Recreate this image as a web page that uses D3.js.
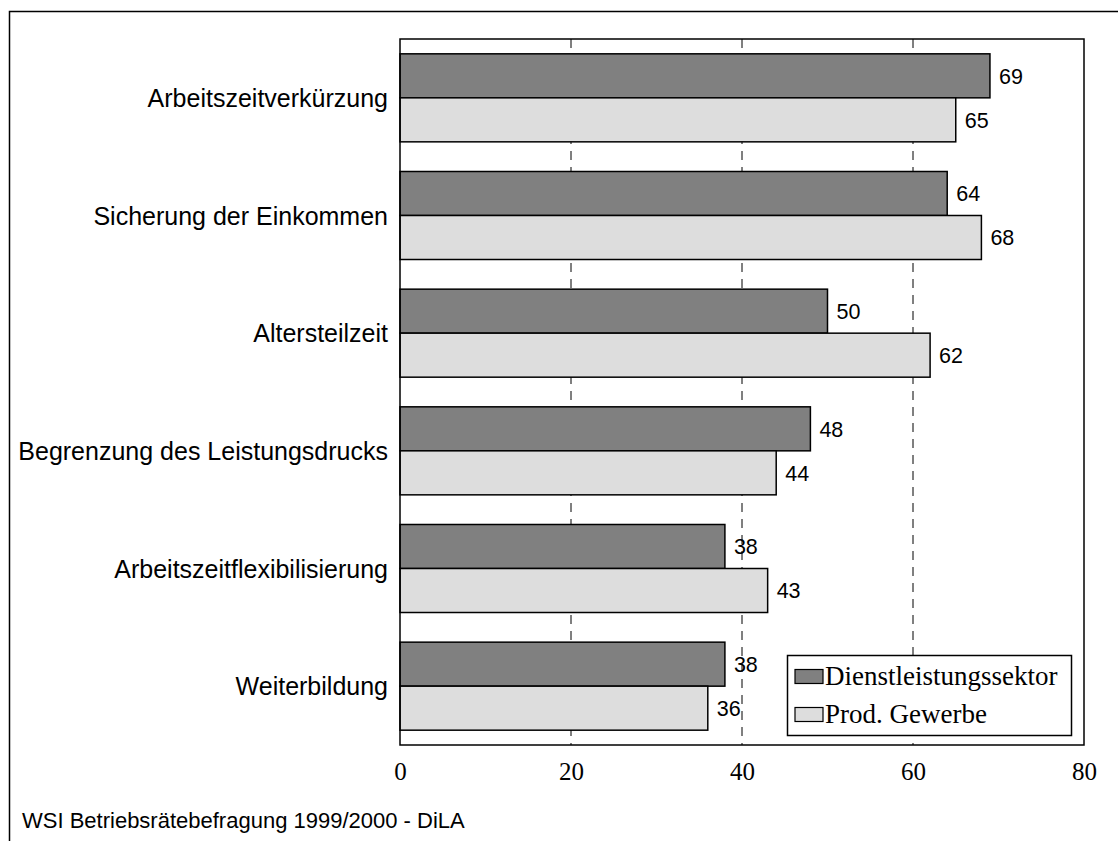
<!DOCTYPE html>
<html><head><meta charset="utf-8">
<script src="https://cdn.jsdelivr.net/npm/d3@7/dist/d3.min.js"></script>
<style>body{margin:0;background:#fff}svg{display:block}</style>
</head><body>
<svg id="c" width="1118" height="841"></svg>
<script>
const categories = ["Arbeitszeitverkürzung","Sicherung der Einkommen","Altersteilzeit","Begrenzung des Leistungsdrucks","Arbeitszeitflexibilisierung","Weiterbildung"];
const seriesNames = ["Dienstleistungssektor","Prod. Gewerbe"];
const dienst = [69,64,50,48,38,38];
const prod = [65,68,62,44,43,36];
const xTicks = [0,20,40,60,80];
const source = "WSI Betriebsrätebefragung 1999/2000 - DiLA";
const colors = ["#808080","#dddddd"];

const svg = d3.select("#c");
svg.append("rect").attr("x",9.5).attr("y",11.5).attr("width",1200).attr("height",900)
  .attr("fill","none").attr("stroke","#000").attr("stroke-width",1.5);

const L=400,R=1084,T=39,B=745;
const x = d3.scaleLinear().domain([0,80]).range([L,R]);
const y = d3.scaleBand().domain(categories).range([T,B]).paddingInner(0.252).paddingOuter(0.126);
const sub = d3.scaleBand().domain([0,1]).range([0,y.bandwidth()]);

svg.append("g").selectAll("line").data(xTicks.filter(d=>d>0&&d<80)).join("line")
  .attr("x1",d=>x(d)).attr("x2",d=>x(d)).attr("y1",T).attr("y2",B)
  .attr("stroke","#000").attr("stroke-width",1).attr("stroke-dasharray","9,7");

const data = categories.map((c,i)=>({c,vals:[dienst[i],prod[i]]}));
const g = svg.append("g");
data.forEach(d=>{
  d.vals.forEach((v,j)=>{
    g.append("rect").attr("x",x(0)).attr("y",y(d.c)+sub(j)).attr("width",x(v)-x(0)).attr("height",sub.bandwidth())
      .attr("fill",colors[j]).attr("stroke","#000").attr("stroke-width",1.5);
    g.append("text").attr("x",x(v)+9).attr("y",y(d.c)+sub(j)+sub.bandwidth()/2).attr("dy","0.36em")
      .attr("font-family","Liberation Sans, Arial, sans-serif").attr("font-size",21.5).text(v);
  });
});

svg.append("rect").attr("x",L).attr("y",T).attr("width",R-L).attr("height",B-T)
  .attr("fill","none").attr("stroke","#000").attr("stroke-width",1.5);

const yAxis = svg.append("g").attr("transform",`translate(${L},0)`).call(d3.axisLeft(y).tickSize(0).tickPadding(12));
yAxis.select(".domain").remove();
yAxis.selectAll("text").attr("font-family","Liberation Sans, Arial, sans-serif").attr("font-size",25).attr("fill","#000").attr("dy","0.36em");

const xAxis = svg.append("g").attr("transform",`translate(0,${B})`).call(d3.axisBottom(x).tickValues(xTicks).tickSize(0).tickPadding(0));
xAxis.select(".domain").remove();
xAxis.selectAll("text").attr("font-family","Liberation Serif, Times New Roman, serif").attr("font-size",25).attr("fill","#000").attr("dy",null).attr("y",35);

const lg = svg.append("g");
lg.append("rect").attr("x",787.5).attr("y",655.5).attr("width",284).attr("height",80).attr("fill","#fff").attr("stroke","#000").attr("stroke-width",1.5);
seriesNames.forEach((n,j)=>{
  const yy = 676.5 + j*38;
  lg.append("rect").attr("x",795).attr("y",yy-7).attr("width",28).attr("height",14).attr("fill",colors[j]).attr("stroke","#000").attr("stroke-width",1.2);
  lg.append("text").attr("x",825).attr("y",yy+8.5).attr("font-family","Liberation Serif, Times New Roman, serif").attr("font-size",27).text(n);
});

svg.append("text").attr("x",22).attr("y",828).attr("font-family","Liberation Sans, Arial, sans-serif").attr("font-size",22).text(source);
</script>
</body></html>
